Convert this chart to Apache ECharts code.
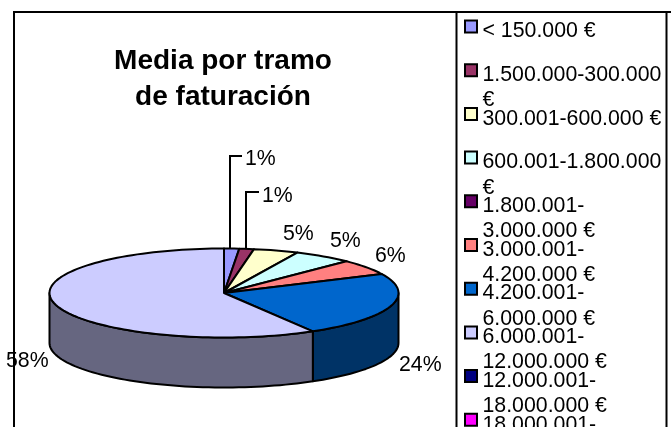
<!DOCTYPE html>
<html><head><meta charset="utf-8">
<style>html,body{margin:0;padding:0;background:#fff;overflow:hidden}#c{width:671px;height:427px}</style>
<script src="https://cdn.jsdelivr.net/npm/echarts@6/dist/echarts.min.js"></script>
</head><body><div id="c"></div>
<script>
const categories = ['< 150.000 €','1.500.000-300.000 €','300.001-600.000 €','600.001-1.800.000 €','1.800.001-3.000.000 €','3.000.001-4.200.000 €','4.200.001-6.000.000 €','6.000.001-12.000.000 €','12.000.001-18.000.000 €','18.000.001-'];
const legendLabels = ['< 150.000 €\n ','1.500.000-300.000\n€','300.001-600.000 €\n ','600.001-1.800.000\n€','1.800.001-\n3.000.000 €','3.000.001-\n4.200.000 €','4.200.001-\n6.000.000 €','6.000.001-\n12.000.000 €','12.000.001-\n18.000.000 €','18.000.001-\n '];
const shares = [1.4,1.35,4.15,5.5,0,5.6,23.5,58.5,0,0];
const percentLabels = ['1%','1%','5%','5%','','6%','24%','58%','',''];
const topColors = ['#9999FF','#993366','#FFFFCC','#CCFFFF','#660066','#FF8080','#0066CC','#CCCCFF','#000080','#FF00FF'];
const sideColors = ['#4D4D80','#4D1A33','#808066','#668080','#330033','#804040','#003366','#666680','#000040','#800080'];

// layout of the data labels (pixels) and of the two leader lines
const labelPos = [[245,159],[262,196],[283,234],[330,241],null,[375,256],[399,365],[6,361],null,null];
const leaders = {0:[[230,248],[230,156],[242,156]],1:[[246,249],[246,192],[259,192]]};
const DEPTH = 50/44.5, TOTAL = shares.reduce((a,b)=>a+b,0), FONT='Liberation Sans, Arial, sans-serif';

function point(api,deg,dy){const t=deg*Math.PI/180;return api.coord([Math.sin(t),Math.cos(t)-(dy||0)]);}
function arc(api,a,b,dy){const p=[];const n=Math.max(2,Math.ceil((b-a)/2));for(let i=0;i<=n;i++)p.push(point(api,a+(b-a)*i/n,dy));return p;}

function makeRender(i){
  return function(params,api){
    const v=api.value(0); const start=shares.slice(0,i).reduce((a,b)=>a+b,0)/TOTAL*360; const end=start+v/TOTAL*360;
    const kids=[]; const line={stroke:'#000',lineWidth:2,lineJoin:'round'};
    if(v>0){
      const fa=Math.max(start,90), fb=Math.min(end,270);
      if(fb>fa){
        const top=arc(api,fa,fb,0), bot=arc(api,fa,fb,DEPTH).reverse();
        kids.push({type:'polygon',z2:1,shape:{points:top.concat(bot)},style:Object.assign({fill:sideColors[i]},line)});
      }
      kids.push({type:'polygon',z2:2,shape:{points:[api.coord([0,0])].concat(arc(api,start,end,0))},style:Object.assign({fill:topColors[i]},line)});
      if(leaders[i]) kids.push({type:'polyline',z2:3,shape:{points:leaders[i]},style:{fill:null,stroke:'#000',lineWidth:2}});
      kids.push({type:'text',z2:4,x:labelPos[i][0],y:labelPos[i][1],style:{text:percentLabels[i],fill:'#000',font:'21.3px '+FONT,verticalAlign:'middle',align:'left'}});
    }
    return {type:'group',children:kids};
  };
}

const chart=echarts.init(document.getElementById('c'),null,{renderer:'canvas'});
chart.setOption({
  animation:false,
  title:{text:'Media por tramo\nde faturación',left:218,top:38.5,textAlign:'center',
    textStyle:{fontFamily:FONT,fontWeight:'bold',fontSize:28,lineHeight:36,color:'#000'}},
  grid:{left:49.5,width:349,top:248.5,height:89,show:false},
  xAxis:{type:'value',min:-1,max:1,show:false},
  yAxis:{type:'value',min:-1,max:1,show:false},
  legend:{orient:'vertical',left:464,top:18,height:700,itemGap:-8.3,itemWidth:13,itemHeight:50,padding:0,
    icon:'path://M0 0L0 0M0 1.5H12V13.5H0Z M0 50L0 50',
    data:categories,
    formatter:n=>legendLabels[categories.indexOf(n)],
    selectedMode:false,
    itemStyle:{borderColor:'#000',borderWidth:2},
    textStyle:{fontFamily:FONT,fontSize:21.3,lineHeight:25.3,color:'#000',padding:[0,0,0,0],overflow:'none'}},
  graphic:[
    {type:'rect',z:-1,shape:{x:14,y:12,width:800,height:500},style:{fill:null,stroke:'#000',lineWidth:2}},
    {type:'rect',z:-1,shape:{x:456.5,y:12,width:210,height:500},style:{fill:null,stroke:'#000',lineWidth:2}}
  ],
  series:categories.map((name,i)=>({type:'custom',name,coordinateSystem:'cartesian2d',clip:false,silent:true,
    itemStyle:{color:topColors[i]},encode:{x:0,y:1},data:[[shares[i],0]],renderItem:makeRender(i)}))
});
</script></body></html>
